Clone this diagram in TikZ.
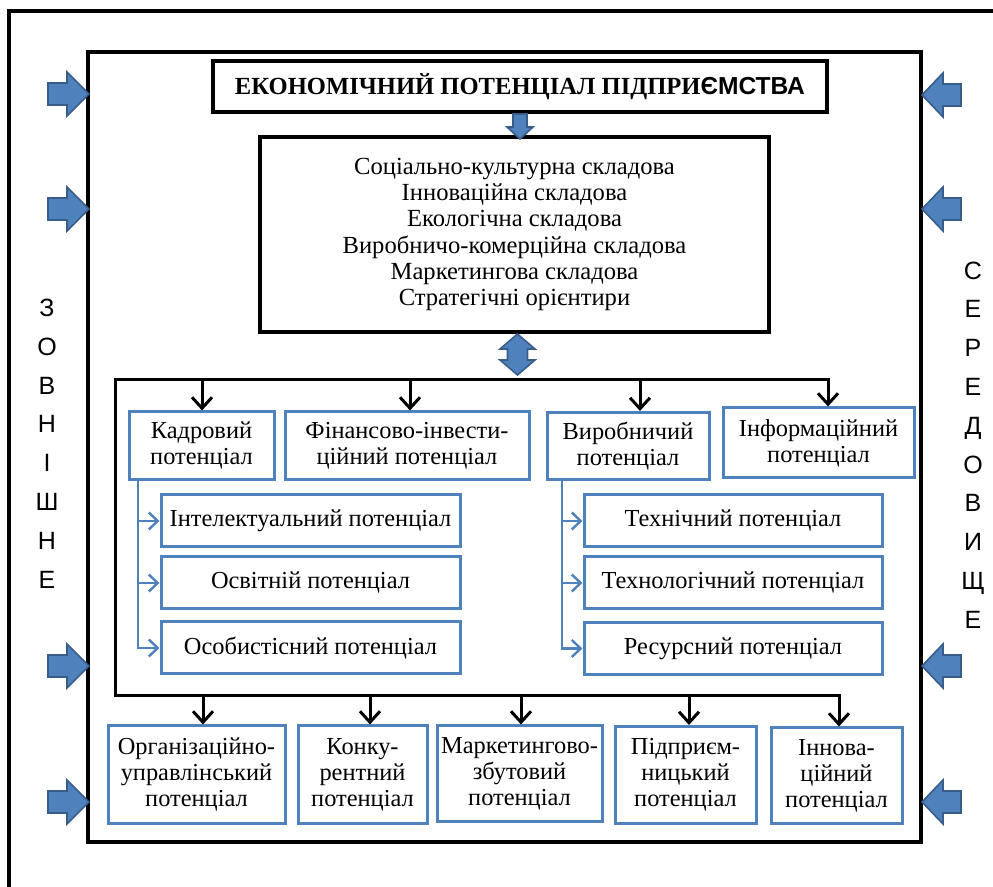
\documentclass[tikz,border=0pt]{standalone}
\usepackage{fontspec}
\setmainfont{Liberation Serif}
\newfontfamily\arialfont{Liberation Sans}
\usepackage{tikz}
\usetikzlibrary{arrows.meta, calc}
\definecolor{boxblue}{HTML}{4F81BD}
\definecolor{arrowfill}{HTML}{4F81BD}
\definecolor{arrowedge}{HTML}{385D8A}
\tikzstyle{frame} = [line width=2pt]
\tikzstyle{headbox} = [rectangle, draw=black, line width=2pt, align=center, font=\fontsize{12.3}{13}\selectfont\bfseries]
\tikzstyle{partsbox} = [rectangle, draw=black, line width=2pt, align=center, font=\fontsize{12.3}{13.1}\selectfont]
\tikzstyle{potbox} = [rectangle, draw=boxblue, line width=1.5pt, align=center, inner sep=2pt, font=\fontsize{12.2}{13}\selectfont]
\tikzstyle{bus} = [line width=1.5pt, line cap=rect]
\tikzstyle{blk} = [line width=1.5pt, -{Straight Barb[length=5.5pt,width=10pt]}]
\tikzstyle{sub} = [line width=1.2pt, boxblue, -{Straight Barb[length=4.5pt,width=8.5pt]}]
\tikzstyle{blockarrow} = [fill=arrowfill, draw=arrowedge, line width=0.8pt, line join=miter]
\tikzstyle{sideword} = [align=center, inner sep=0pt, font=\arialfont\fontsize{12.5}{19.4}\selectfont]

\begin{document}
\begin{tikzpicture}[x=0.5pt, y=-0.5pt]
    \useasboundingbox (0,0) rectangle (993,887);

    % Frames
    \draw[frame] (9,887) |- (993,11);
    \draw[frame] (88,52) rectangle (921,842);

    % Environment
    \node (zovn) [sideword] at (47,443.5) {З\\О\\В\\Н\\І\\Ш\\Н\\Е};
    \node (sered) [sideword] at (973,445) {С\\Е\\Р\\Е\\Д\\О\\В\\И\\Щ\\Е};
    \foreach \y in {94,209,666,802}
        \draw[blockarrow] (48,\y-11) -- (67,\y-11) -- (67,\y-22) -- (89,\y) -- (67,\y+22) -- (67,\y+11) -- (48,\y+11) -- cycle;
    \foreach \y in {95,209,666,802}
        \draw[blockarrow] (961,\y-11) -- (943,\y-11) -- (943,\y-22) -- (922,\y) -- (943,\y+22) -- (943,\y+11) -- (961,\y+11) -- cycle;

    % Title and components
    \node (title) [headbox, minimum width=307pt, minimum height=25.5pt] at (520,86.5) {ЕКОНОМІЧНИЙ ПОТЕНЦІАЛ ПІДПРИ{\arialfont ЄМСТВА}};
    \node (parts) [partsbox, minimum width=254.5pt, minimum height=97.5pt] at (514.5,234.5) {Соціально-культурна складова\\Інноваційна складова\\Екологічна складова\\Виробничо-комерційна складова\\Маркетингова складова\\Стратегічні орієнтири};
    \draw[blockarrow, shift={(title.south)}] (-7,0) -- (7,0) -- (7,13) -- (13,13) -- (0,25) -- (-13,13) -- (-7,13) -- cycle;
    \draw[blockarrow, shift={([xshift=1.5pt]parts.south)}] (0,0) -- (17.5,15) -- (10,15) -- (10,26) -- (17.5,26) -- (0,41) -- (-17.5,26) -- (-10,26) -- (-10,15) -- (-17.5,15) -- cycle;

    % Upper potentials
    \node (kadr) [potbox, minimum width=72.5pt, minimum height=34pt] at (201.5,446) {Кадровий\\потенціал};
    \node (fin) [potbox, minimum width=122pt, minimum height=34pt] at (407,446) {Фінансово-інвести-\\ційний потенціал};
    \node (vyr) [potbox, minimum width=81pt, minimum height=33.5pt] at (628,446) {Виробничий\\потенціал};
    \node (info) [potbox, minimum width=95.5pt, minimum height=35pt] at (818.5,443) {Інформаційний\\потенціал};

    \node (intel) [potbox, minimum width=149.5pt, minimum height=26pt] at (310.5,521) {Інтелектуальний потенціал};
    \node (osvit) [potbox, minimum width=149.5pt, minimum height=26pt] at (310.5,583) {Освітній потенціал};
    \node (osob) [potbox, minimum width=149.5pt, minimum height=26pt] at (310.5,648) {Особистісний потенціал};
    \node (tekhn) [potbox, minimum width=149pt, minimum height=26pt] at (733,521) {Технічний потенціал};
    \node (tekhnol) [potbox, minimum width=149pt, minimum height=26pt] at (733,583) {Технологічний потенціал};
    \node (resurs) [potbox, minimum width=149pt, minimum height=26pt] at (733,648.5) {Ресурсний потенціал};

    % Lower potentials
    \node (org) [potbox, minimum width=88.5pt, minimum height=49pt] at (196.5,775) {Організаційно-\\управлінський\\потенціал};
    \node (konk) [potbox, minimum width=64.5pt, minimum height=49pt] at (362.5,775) {Конку-\\рентний\\потенціал};
    \node (mark) [potbox, minimum width=82.5pt, minimum height=48pt] at (519.5,774) {Маркетингово-\\збутовий\\потенціал};
    \node (pidpr) [potbox, minimum width=70.5pt, minimum height=48.5pt] at (685.5,775) {Підприєм-\\ницький\\потенціал};
    \node (innov) [potbox, minimum width=65.5pt, minimum height=48pt] at (836.5,776) {Іннова-\\ційний\\потенціал};

    % Bus lines
    \coordinate (tl) at (115,380);
    \coordinate (bl) at (115,696);
    \coordinate (t1) at (202,380);
    \coordinate (t2) at (410,380);
    \coordinate (t3) at (640,380);
    \coordinate (t4) at (828,380);
    \coordinate (b1) at (203,696);
    \coordinate (b2) at (370,696);
    \coordinate (b3) at (521,696);
    \coordinate (b4) at (689,696);
    \coordinate (b5) at (839,696);
    \draw[bus] (t4) -- (tl) -- (bl) -- (b5);
    \foreach \c/\n in {t1/kadr, t2/fin, t3/vyr, t4/info, b1/org, b2/konk, b3/mark, b4/pidpr, b5/innov}
        \draw[blk] (\c) -- (\c |- \n.north);

    % Sub-lists
    \coordinate (k0) at (138,481);
    \coordinate (v0) at (562,481);
    \foreach \n in {intel, osvit, osob}
        \draw[sub] (k0) |- (\n.west);
    \foreach \n in {tekhn, tekhnol, resurs}
        \draw[sub] (v0) |- (\n.west);

\end{tikzpicture}
\end{document}
